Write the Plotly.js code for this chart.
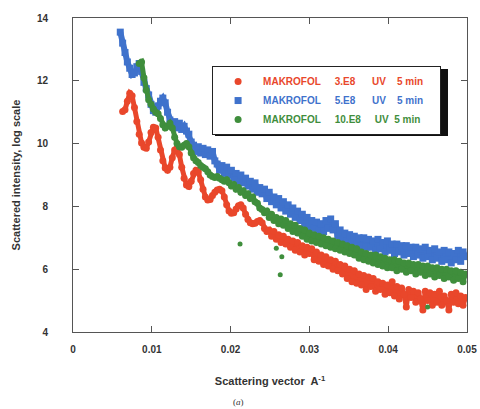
<!DOCTYPE html>
<html>
<head>
<meta charset="utf-8">
<script src="https://cdn.plot.ly/plotly-3.0.1.min.js"></script>
<style>html,body{margin:0;padding:0;background:#fff;}#chart{width:480px;height:409px;}</style>
</head>
<body>
<div id="chart"></div>
<script>
// Scattering vector q (A^-1)
var q = [0.0060,0.0063,0.0066,0.0069,0.0072,0.0075,0.0078,0.0081,0.0084,0.0087,
0.0090,0.0093,0.0096,0.0099,0.0102,0.0105,0.0108,0.0111,0.0114,0.0117,
0.0120,0.0123,0.0126,0.0129,0.0132,0.0135,0.0138,0.0141,0.0144,0.0147,
0.0150,0.0153,0.0156,0.0159,0.0162,0.0165,0.0168,0.0171,0.0174,0.0177,
0.0180,0.0183,0.0186,0.0189,0.0192,0.0195,0.0198,0.0201,0.0204,0.0207,
0.0210,0.0213,0.0216,0.0219,0.0222,0.0225,0.0228,0.0231,0.0234,0.0237,
0.0240,0.0243,0.0246,0.0249,0.0252,0.0255,0.0258,0.0261,0.0264,0.0267,
0.0270,0.0273,0.0276,0.0279,0.0282,0.0285,0.0288,0.0291,0.0294,0.0297,
0.0300,0.0303,0.0306,0.0309,0.0312,0.0315,0.0318,0.0321,0.0324,0.0327,
0.0330,0.0333,0.0336,0.0339,0.0342,0.0345,0.0348,0.0351,0.0354,0.0357,
0.0360,0.0363,0.0366,0.0369,0.0372,0.0375,0.0378,0.0381,0.0384,0.0387,
0.0390,0.0393,0.0396,0.0399,0.0402,0.0405,0.0408,0.0411,0.0414,0.0417,
0.0420,0.0423,0.0426,0.0429,0.0432,0.0435,0.0438,0.0441,0.0444,0.0447,
0.0450,0.0453,0.0456,0.0459,0.0462,0.0465,0.0468,0.0471,0.0474,0.0477,
0.0480,0.0483,0.0486,0.0489,0.0492,0.0495,0.0498];

// MAKROFOL 3.E8 UV 5 min
var red = [null,11.02,11.08,11.35,11.60,11.52,11.15,10.70,10.30,10.02,
9.88,9.85,10.05,10.35,10.52,10.50,10.20,9.80,9.45,9.22,
9.15,9.25,9.55,9.80,9.85,9.65,9.25,8.90,8.68,8.63,
8.80,9.05,9.15,9.10,8.85,8.55,8.30,8.20,8.22,8.35,
8.45,8.52,8.55,8.50,8.30,8.05,7.85,7.78,7.80,7.92,
8.02,8.05,7.95,7.75,7.58,7.48,7.45,7.46,7.52,7.55,
7.48,7.30,7.20,7.25,7.05,7.20,6.95,7.10,6.85,7.05,
6.80,6.95,6.70,6.90,6.60,6.85,6.55,6.75,6.45,6.70,
6.50,6.65,6.30,6.55,6.25,6.45,6.15,6.40,6.10,6.30,
6.00,6.25,5.95,6.15,5.85,6.10,5.70,6.00,5.60,5.95,
5.55,5.85,5.50,5.80,5.35,5.75,5.45,5.70,5.30,5.60,
5.35,5.55,5.20,5.50,5.25,5.60,5.15,5.45,5.05,5.40,
5.20,4.80,5.35,5.10,5.30,4.95,5.25,5.05,4.70,5.30,
5.00,5.25,4.85,5.20,4.95,5.30,4.85,5.15,5.00,4.70,
5.20,4.95,5.25,4.90,5.15,4.85,5.10];

// MAKROFOL 5.E8 UV 5 min
var blue = [13.55,13.20,12.90,12.60,12.40,12.20,12.25,12.45,12.55,12.30,
11.95,11.75,11.55,11.25,11.05,11.00,11.20,11.35,11.45,11.30,
11.00,10.75,10.60,10.70,10.50,10.65,10.45,10.55,10.40,10.30,
10.05,9.95,9.75,9.90,9.70,9.85,9.65,9.80,9.60,9.75,
9.45,9.35,9.15,9.30,9.05,9.25,9.00,9.15,8.90,9.05,
8.80,9.00,8.75,8.90,8.65,8.80,8.55,8.75,8.45,8.60,
8.40,8.55,8.25,8.45,8.15,8.30,8.05,8.25,7.95,8.15,
7.85,8.05,7.75,7.95,7.65,7.85,7.55,7.75,7.45,7.65,
7.35,7.55,7.30,7.50,7.25,7.45,7.20,7.55,7.30,7.60,
7.25,7.45,7.05,7.25,6.95,7.15,6.90,7.10,6.85,7.05,
6.80,7.00,6.75,7.00,6.70,6.95,6.70,6.90,6.60,6.95,
6.65,6.85,6.55,6.90,6.60,6.80,6.50,6.80,6.55,6.75,
6.45,6.75,6.50,6.70,6.40,6.70,6.45,6.65,6.35,6.70,
6.40,6.60,6.30,6.65,6.35,6.55,6.25,6.60,6.30,6.55,
6.20,6.50,6.30,6.60,6.25,6.55,6.40];

// MAKROFOL 10.E8 UV 5 min
var green = [null,null,null,null,null,null,null,null,12.55,12.60,
12.10,11.70,11.40,11.25,11.10,11.00,10.95,10.80,10.60,10.50,
10.55,10.65,10.50,10.20,10.00,9.90,9.88,9.95,10.00,9.90,
9.70,9.55,9.45,9.40,9.30,9.25,9.20,9.10,9.00,8.95,
8.92,8.95,8.90,8.85,8.80,8.85,8.75,8.65,8.70,8.55,
8.60,8.45,8.50,8.35,8.40,8.25,8.30,8.15,8.10,7.95,
7.90,7.80,7.85,7.65,7.75,7.55,7.65,7.45,7.60,7.40,
7.55,7.30,7.45,7.20,7.40,7.15,7.30,7.05,7.25,6.95,
7.15,6.90,7.10,6.85,7.05,6.80,7.00,6.75,6.95,6.70,
6.90,6.65,6.85,6.60,6.80,6.55,6.75,6.50,6.70,6.45,
6.65,6.35,6.55,6.30,6.50,6.25,6.45,6.20,6.45,6.15,
6.40,6.10,6.35,6.05,6.30,6.05,6.30,5.95,6.25,6.00,
6.20,5.90,6.20,5.95,6.15,5.85,6.15,5.90,6.10,5.80,
6.10,5.85,6.05,5.75,6.05,5.80,6.00,5.70,6.00,5.75,
5.95,5.65,5.95,5.70,5.90,5.60,5.85];

// stray low points of the 10.E8 series
var greenStrayQ = [0.0212,0.0258,0.0263,0.0265,0.0450];
var greenStrayI = [6.80,6.67,5.82,6.40,4.80];

var sp = function(n){ return new Array(n + 1).join('\u00a0'); };
var names = ['MAKROFOL' + sp(5) + '3.E8' + sp(6) + 'UV' + sp(4) + '5\u00a0min' + sp(4),
             'MAKROFOL' + sp(5) + '5.E8' + sp(6) + 'UV' + sp(4) + '5\u00a0min' + sp(4),
             'MAKROFOL' + sp(5) + '10.E8' + sp(5) + 'UV' + sp(2) + '5\u00a0min' + sp(4)];
var colors = ['#e9472b', '#3f72cc', '#3f8e3c'];
var symbols = ['circle', 'square', 'circle'];
var bandWidth = [5, 6, 5];
var series = [red, blue, green];

var traces = [];
series.forEach(function(s, i){
  // dense band joining the measured points
  traces.push({
    x: q, y: s, type: 'scatter', mode: 'lines',
    line: {color: colors[i], width: bandWidth[i]},
    legendgroup: 'g' + i, showlegend: false, hoverinfo: 'skip'
  });
  // the measured points
  traces.push({
    x: q, y: s, type: 'scatter', mode: 'markers',
    marker: {color: colors[i], size: 7, symbol: symbols[i]},
    legendgroup: 'g' + i,
    name: '<span style="color:' + colors[i] + '">' + names[i] + '</span>'
  });
});
traces.push({
  x: greenStrayQ, y: greenStrayI, type: 'scatter', mode: 'markers',
  marker: {color: colors[2], size: 5}, legendgroup: 'g2', showlegend: false
});

var tickFont = {family: 'Liberation Sans, Arial, sans-serif', size: 10, color: '#333', weight: 700};
var titleFont = {family: 'Liberation Sans, Arial, sans-serif', size: 11, color: '#333', weight: 700};

var layout = {
  width: 480, height: 409,
  margin: {l: 73, r: 13, t: 18, b: 77},
  paper_bgcolor: '#fff', plot_bgcolor: '#fff',
  showlegend: true,
  legend: {
    x: 0.353, y: 0.847, xanchor: 'left', yanchor: 'top',
    bgcolor: '#fff', bordercolor: '#222', borderwidth: 1,
    font: {family: 'Liberation Sans, Arial, sans-serif', size: 10, weight: 700},
    tracegroupgap: 0, itemwidth: 40
  },
  xaxis: {
    range: [0, 0.05], dtick: 0.01, tick0: 0,
    showgrid: false, zeroline: false,
    showline: true, mirror: 'ticks', linecolor: '#555', linewidth: 1,
    ticks: 'inside', ticklen: 6, tickcolor: '#555',
    tickfont: tickFont, ticklabelstandoff: 8,
    title: {text: 'Scattering vector  A<sup>-1</sup>', font: titleFont, standoff: 23}
  },
  yaxis: {
    range: [4, 14], dtick: 2, tick0: 4,
    showgrid: false, zeroline: false,
    showline: true, mirror: 'ticks', linecolor: '#555', linewidth: 1,
    ticks: 'inside', ticklen: 6, tickcolor: '#555',
    tickfont: tickFont, ticklabelstandoff: 22,
    title: {text: 'Scattered intensity, log scale', font: titleFont, standoff: 14}
  },
  // drop shadow of the legend box (3px right and down)
  shapes: [{
    type: 'rect', xref: 'paper', yref: 'paper',
    x0: (215 - 73) / 394, x1: (448 - 73) / 394,
    y0: (332 - 136) / 314, y1: (332 - 69) / 314,
    fillcolor: '#111', line: {width: 0}, layer: 'above'
  }],
  annotations: [{
    text: '(<i>a</i>)', xref: 'paper', yref: 'paper', x: 0.42, y: -0.222,
    xanchor: 'center', yanchor: 'middle', showarrow: false,
    font: {family: 'Liberation Serif, Times New Roman, serif', size: 9, color: '#333'}
  }]
};

Plotly.newPlot('chart', traces, layout, {displayModeBar: false, staticPlot: true});
</script>
</body>
</html>
